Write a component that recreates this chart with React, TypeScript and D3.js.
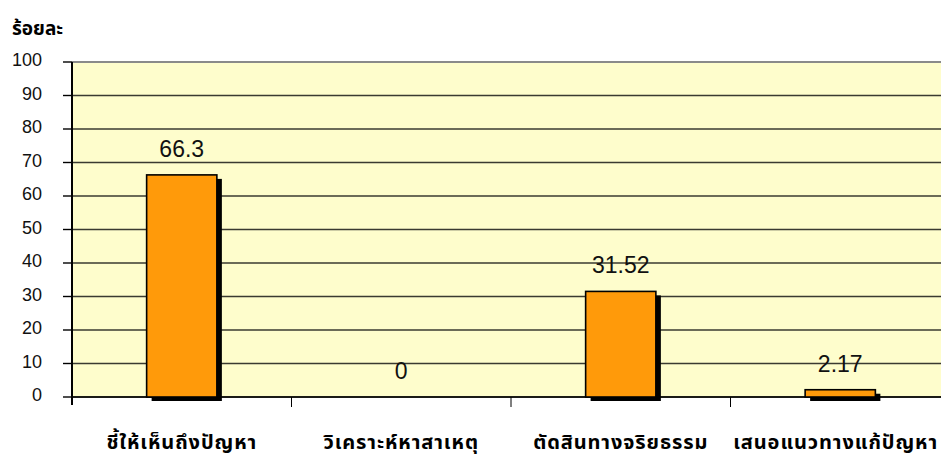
import React from 'react';
import * as d3 from 'd3';

// chart data
const categories = ['ชี้ให้เห็นถึงปัญหา', 'วิเคราะห์หาสาเหตุ', 'ตัดสินทางจริยธรรม', 'เสนอแนวทางแก้ปัญหา'];
const percentValues = [66.3, 0, 31.52, 2.17];
const valueLabels = ['66.3', '0', '31.52', '2.17'];
const yTicks = [0, 10, 20, 30, 40, 50, 60, 70, 80, 90, 100];
const yTitle = 'ร้อยละ';

const W = 941;
const H = 458;
const plot = { left: 72, right: 950, top: 62, bottom: 397 };

const App: React.FC = () => {
  const x = d3.scaleBand<string>().domain(categories).range([plot.left, plot.right]).padding(0);
  const y = d3.scaleLinear().domain([0, 100]).range([plot.bottom, plot.top]);
  const barW = x.bandwidth() * 0.32;

  return (
    <svg
      width={W}
      height={H}
      style={{ position: 'absolute', left: 0, top: 0, background: '#fff' }}
    >
      {/* plot background */}
      <rect
        x={plot.left}
        y={plot.top}
        width={plot.right - plot.left}
        height={plot.bottom - plot.top}
        fill="#FEFDCC"
      />

      {/* gridlines */}
      {yTicks.map(t => (
        <line
          key={'g' + t}
          x1={plot.left}
          x2={plot.right}
          y1={y(t)}
          y2={y(t)}
          stroke={t === 100 ? '#8a8a8a' : '#3a3a30'}
          strokeWidth={t === 100 ? 2 : 1.4}
        />
      ))}

      {/* y axis */}
      <line x1={plot.left} x2={plot.left} y1={plot.top} y2={plot.bottom + 8} stroke="#000" strokeWidth={2} />
      {yTicks.map(t => (
        <g key={'t' + t}>
          <line x1={plot.left - 9} x2={plot.left} y1={y(t)} y2={y(t)} stroke="#000" strokeWidth={1.4} />
          <text
            x={42}
            y={y(t) + 4}
            textAnchor="end"
            fontFamily="'Liberation Sans', Arial, sans-serif"
            fontSize={18}
            fill="#111"
          >
            {t}
          </text>
        </g>
      ))}

      {/* x axis */}
      <line x1={plot.left} x2={plot.right} y1={plot.bottom} y2={plot.bottom} stroke="#000" strokeWidth={1.6} />
      {categories.slice(1).map(c => (
        <line
          key={'xt' + c}
          x1={x(c)!}
          x2={x(c)!}
          y1={plot.bottom}
          y2={plot.bottom + 10}
          stroke="#000"
          strokeWidth={1}
        />
      ))}

      {/* bars with drop shadow */}
      {categories.map((c, i) => {
        const cx = x(c)! + x.bandwidth() / 2;
        const v = percentValues[i];
        const top = y(v);
        const h = plot.bottom - top;
        const last = i === categories.length - 1;
        return (
          <g key={'b' + c}>
            {v > 0 && (
              <>
                <rect x={cx - barW / 2 + 5} y={top + 4} width={barW} height={h} fill="#000" />
                <rect
                  x={cx - barW / 2}
                  y={top}
                  width={barW}
                  height={h}
                  fill="#FF9A0A"
                  stroke="#000"
                  strokeWidth={1.6}
                />
              </>
            )}
            <text
              x={cx}
              y={top - 18}
              textAnchor="middle"
              fontFamily="'Liberation Sans', Arial, sans-serif"
              fontSize={23}
              fill="#111"
            >
              {valueLabels[i]}
            </text>
            {/* last label would spill off the right edge, so pin it there */}
            <text
              x={last ? W - 3 : cx}
              y={449}
              textAnchor={last ? 'end' : 'middle'}
              fontFamily="'Noto Sans Thai', 'Noto Sans', sans-serif"
              fontSize={20}
              fontWeight="bold"
              letterSpacing={0.9}
              fill="#000"
            >
              {c}
            </text>
          </g>
        );
      })}

      {/* y title */}
      <text
        x={12}
        y={35}
        fontFamily="'Noto Sans Thai', 'Noto Sans', sans-serif"
        fontSize={19}
        fontWeight="bold"
        fill="#000"
      >
        {yTitle}
      </text>
    </svg>
  );
};

export default App;
